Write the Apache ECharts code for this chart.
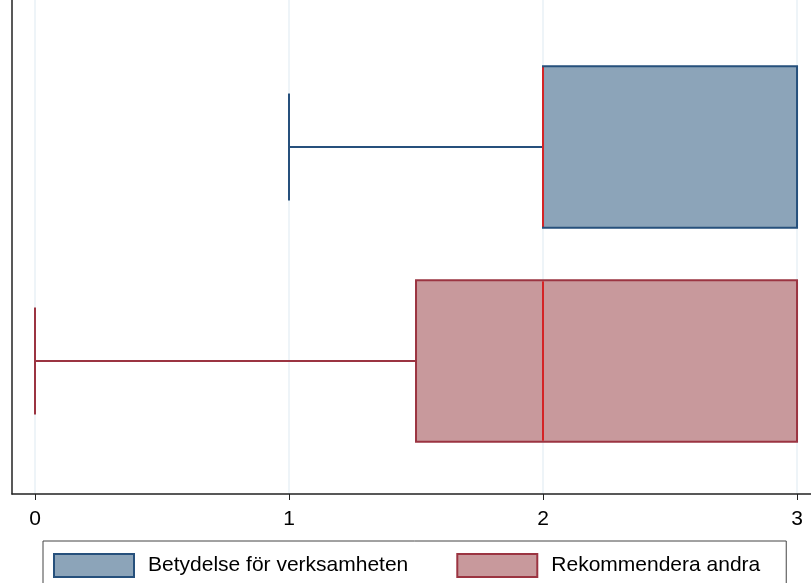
<!DOCTYPE html>
<html>
<head>
<meta charset="utf-8">
<script src="https://cdn.jsdelivr.net/npm/echarts@6/dist/echarts.min.js"></script>
<style>
  html, body { margin: 0; padding: 0; background: #fff; }
  #chart { width: 811px; height: 583px; }
</style>
</head>
<body>
<div id="chart"></div>
<script>
// Box plot summaries for each rating
const categories = ['Betydelse för verksamheten', 'Rekommendera andra'];
const minValues = [1, 0];
const q1Values = [2, 1.5];
const medianValues = [2, 2];
const q3Values = [3, 3];
const maxValues = [3, 3];
const xTicks = [0, 1, 2, 3];

// Layout: vertical row position for each box on the hidden value axis
const rowPos = [2, 1];
const fills = ['#8ca4b9', '#c8999c'];
const borders = ['#26507c', '#9b3441'];
const medianColor = '#d42426';
const BOX_HALF = 0.377;   // half box height in row units
const CAP_HALF = 0.25;    // half whisker-cap height in row units
const FONT = 'Liberation Sans, Arial, Helvetica, sans-serif';

function renderBox(params, api) {
  const y = api.value(0);
  const mn = api.value(1), q1 = api.value(2), md = api.value(3), q3 = api.value(4), mx = api.value(5);
  const idx = params.seriesIndex;
  const boxH = api.size([0, BOX_HALF])[1];
  const capH = api.size([0, CAP_HALF])[1];
  const pMin = api.coord([mn, y]);
  const pQ1 = api.coord([q1, y]);
  const pMd = api.coord([md, y]);
  const pQ3 = api.coord([q3, y]);
  const pMax = api.coord([mx, y]);
  const lineStyle = { stroke: borders[idx], lineWidth: 2, fill: null };
  return {
    type: 'group',
    children: [
      { type: 'line', shape: { x1: pMin[0], y1: pMin[1], x2: pQ1[0], y2: pQ1[1] }, style: lineStyle },
      { type: 'line', shape: { x1: pMin[0], y1: pMin[1] - capH, x2: pMin[0], y2: pMin[1] + capH }, style: lineStyle },
      { type: 'line', shape: { x1: pQ3[0], y1: pQ3[1], x2: pMax[0], y2: pMax[1] }, style: lineStyle },
      { type: 'line', shape: { x1: pMax[0], y1: pMax[1] - capH, x2: pMax[0], y2: pMax[1] + capH }, style: lineStyle },
      { type: 'rect', shape: { x: pQ1[0], y: pQ1[1] - boxH, width: pQ3[0] - pQ1[0], height: boxH * 2 },
        style: { fill: fills[idx], stroke: borders[idx], lineWidth: 2 } },
      { type: 'line', shape: { x1: pMd[0], y1: pMd[1] - boxH + 1, x2: pMd[0], y2: pMd[1] + boxH - 1 },
        style: { stroke: medianColor, lineWidth: 2 } }
    ]
  };
}

const series = categories.map((name, i) => ({
  name: name,
  type: 'custom',
  renderItem: renderBox,
  encode: { x: [1, 2, 3, 4, 5], y: 0 },
  itemStyle: { color: fills[i], borderColor: borders[i] },
  data: [[rowPos[i], minValues[i], q1Values[i], medianValues[i], q3Values[i], maxValues[i]]]
}));

const chart = echarts.init(document.getElementById('chart'), null, { renderer: 'canvas' });
chart.setOption({
  animation: false,
  backgroundColor: '#ffffff',
  textStyle: { fontFamily: FONT },
  grid: { left: 12, right: 0, top: 0, bottom: 89, containLabel: false },
  xAxis: {
    type: 'value',
    min: -0.0906,
    max: 3.055,
    axisLine: { show: true, lineStyle: { color: '#222', width: 1.5 } },
    axisTick: { show: true, length: 6, lineStyle: { color: '#222', width: 1 }, customValues: xTicks },
    axisLabel: { show: true, customValues: xTicks, margin: 15, fontSize: 21, color: '#000', fontFamily: FONT },
    splitLine: { show: true, lineStyle: { color: '#e8f0f6', width: 1.5 } }
  },
  yAxis: {
    type: 'value',
    min: 0.3785,
    max: 2.687,
    axisLine: { show: true, onZero: false, lineStyle: { color: '#222', width: 1.5 } },
    axisTick: { show: false },
    axisLabel: { show: false },
    splitLine: { show: false }
  },
  legend: {
    left: 43,
    top: 541,
    orient: 'horizontal',
    padding: [12, 26, 12, 10],
    itemGap: 48,
    itemWidth: 80,
    itemHeight: 23,
    borderColor: '#444',
    borderWidth: 1,
    textStyle: { fontSize: 21, color: '#000', padding: [2, 0, 0, 9], fontFamily: FONT },
    data: categories.map((name, i) => ({
      name: name,
      icon: 'rect',
      itemStyle: { color: fills[i], borderColor: borders[i], borderWidth: 2 }
    }))
  },
  series: series
});
</script>
</body>
</html>
